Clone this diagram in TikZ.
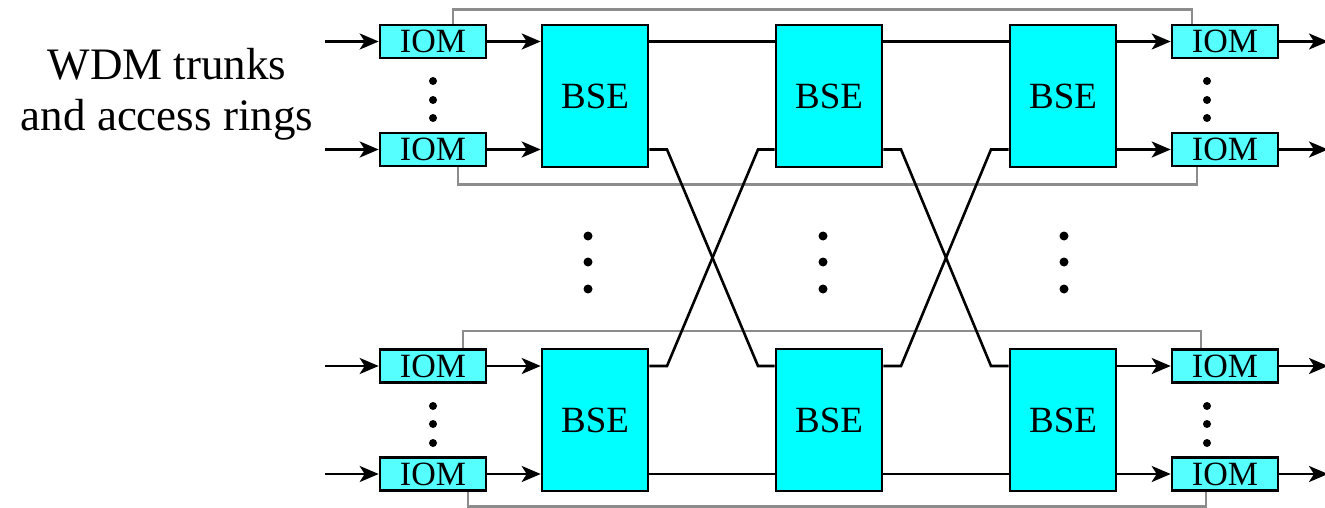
\documentclass[tikz,border=0pt]{standalone}
\usepackage{fontspec}
\setmainfont{Liberation Serif}
\usetikzlibrary{arrows.meta}
\definecolor{iomcyan}{HTML}{55FFFF}
\definecolor{bsecyan}{HTML}{00FFFF}
\definecolor{gline}{HTML}{8C8C8C}
\tikzset{
  iom/.style={draw=black, line width=2.6pt, fill=iomcyan, minimum width=106pt, minimum height=33pt, inner sep=0pt, font=\fontsize{34}{34}\selectfont},
  bse/.style={draw=black, line width=2.6pt, fill=bsecyan, minimum width=106pt, minimum height=142pt, inner sep=0pt, font=\fontsize{37}{37}\selectfont},
  sig/.style={line width=2.6pt, black, -{Stealth[length=19pt,width=16pt,inset=5pt]}},
  wire/.style={line width=2.6pt, black},
  grayline/.style={line width=2.4pt, gline},
  dot/.style={circle, fill=black, inner sep=0pt, minimum size=9pt},
  sdot/.style={circle, fill=black, inner sep=0pt, minimum size=8pt},
}
\begin{document}
\begin{tikzpicture}[x=1pt,y=-1pt]
\useasboundingbox (0,0) rectangle (1325,508);
% box centres
\coordinate (cl1) at (433,41.5);
\coordinate (cl2) at (433,149.5);
\coordinate (cl3) at (433,366);
\coordinate (cl4) at (433,474);
\coordinate (cr1) at (1225,41.5);
\coordinate (cr2) at (1225,149.5);
\coordinate (cr3) at (1225,366);
\coordinate (cr4) at (1225,474);
% gray loops
\draw[grayline] (453,25) |- (1192,9.5) -- (1192,25);
\draw[grayline] (458,166) |- (1197,184.5) -- (1197,166);
\draw[grayline] (463,349.5) |- (1201,331) -- (1201,349.5);
\draw[grayline] (468,490.5) |- (1206,506.5) -- (1206,490.5);
% boxes
\node[iom] (l1) at (cl1) {IOM};
\node[iom] (l2) at (cl2) {IOM};
\node[iom] (l3) at (cl3) {IOM};
\node[iom] (l4) at (cl4) {IOM};
\node[iom] (r1) at (cr1) {IOM};
\node[iom] (r2) at (cr2) {IOM};
\node[iom] (r3) at (cr3) {IOM};
\node[iom] (r4) at (cr4) {IOM};
\node[bse] (b1) at (595,96) {BSE};
\node[bse] (b2) at (829,96) {BSE};
\node[bse] (b3) at (1063,96) {BSE};
\node[bse] (b4) at (595,420) {BSE};
\node[bse] (b5) at (829,420) {BSE};
\node[bse] (b6) at (1063,420) {BSE};
% input / output arrows
\coordinate (i1) at (325,41.5);
\coordinate (i2) at (325,149.5);
\coordinate (i3) at (325,366);
\coordinate (i4) at (325,474);
\coordinate (o1) at (1328,41.5);
\coordinate (o2) at (1328,149.5);
\coordinate (o3) at (1328,366);
\coordinate (o4) at (1328,474);
\foreach \k in {1,2,3,4}{
  \draw[sig] (i\k) -- (l\k.west);
  \draw[sig] (r\k.east) -- (o\k);
}
\draw[sig] (l1.east) -- (b1.west |- l1);
\draw[sig] (l2.east) -- (b1.west |- l2);
\draw[sig] (l3.east) -- (b4.west |- l3);
\draw[sig] (l4.east) -- (b4.west |- l4);
\draw[sig] (b3.east |- r1) -- (r1.west);
\draw[sig] (b3.east |- r2) -- (r2.west);
\draw[sig] (b6.east |- r3) -- (r3.west);
\draw[sig] (b6.east |- r4) -- (r4.west);
% straight wires
\draw[wire] (b1.east |- l1) -- (b2.west |- l1);
\draw[wire] (b2.east |- l1) -- (b3.west |- l1);
\draw[wire] (b4.east |- l4) -- (b5.west |- l4);
\draw[wire] (b5.east |- l4) -- (b6.west |- l4);
% crossing wires
\draw[wire] (b1.east |- l2) -- (667,149.5) -- (758,366) -- (b5.west |- l3);
\draw[wire] (b4.east |- l3) -- (667,366) -- (758,149.5) -- (b2.west |- l2);
\draw[wire] (b2.east |- l2) -- (901,149.5) -- (991,366) -- (b6.west |- l3);
\draw[wire] (b5.east |- l3) -- (901,366) -- (991,149.5) -- (b3.west |- l2);
% dots
\foreach \y in {81,100,118,406,424,443}{
  \node[sdot] at (433,\y) {};
  \node[sdot] at (1207,\y) {};
}
\foreach \x in {588,823,1064}{
  \foreach \y in {236,262,289}{
    \node[dot] at (\x,\y) {};
  }
}
% label
\node[align=center, font=\fontsize{45}{51}\selectfont] (lab) at (167,94) {WDM trunks\\and access rings};
\end{tikzpicture}
\end{document}
